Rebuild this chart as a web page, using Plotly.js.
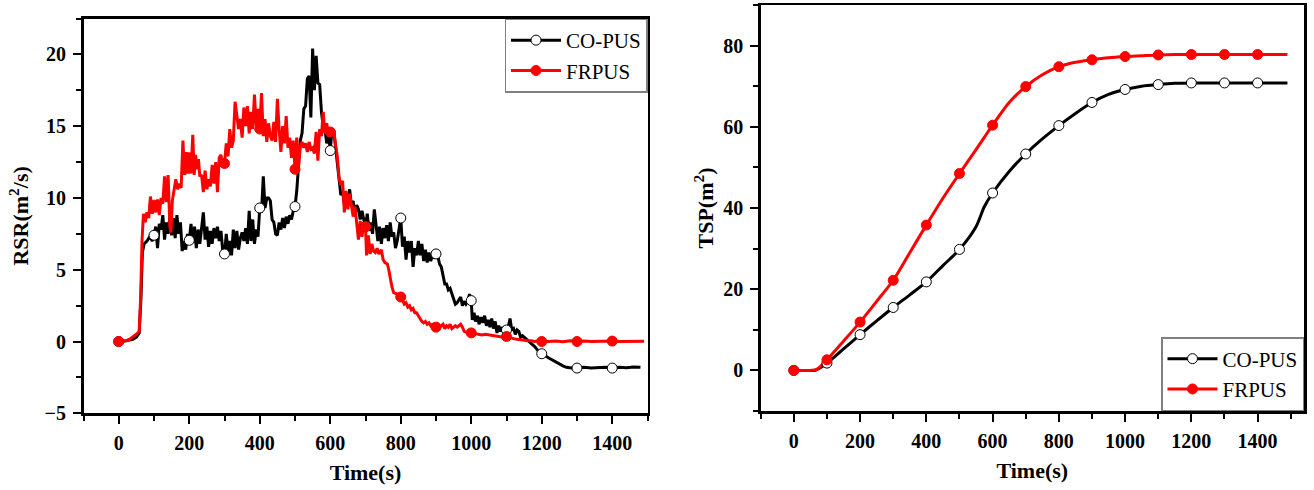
<!DOCTYPE html>
<html><head><meta charset="utf-8">
<script src="https://cdn.plot.ly/plotly-3.0.1.min.js"></script>
<style>html,body{margin:0;padding:0;background:#fff}</style>
</head><body>
<div id="chart" style="width:1314px;height:490px"></div>
<script>
const seriesNames = ['CO-PUS', 'FRPUS'];
const seriesColors = ['#000000', '#ff0000'];

// Rate of smoke release, CO-PUS
const rsrTimeCO = [0,10,20,30,40,50,58,63,67,72,80,88,95,100,105,110,115,120,125,130,135,140,145,150,155,160,165,170,175,180,185,190,195,200,205,210,215,220,225,230,235,240,245,250,255,260,265,270,275,280,285,290,295,300,305,310,315,320,325,330,335,340,345,350,355,360,365,370,375,380,385,390,395,400,405,410,415,420,425,430,435,440,445,450,455,460,465,470,475,480,485,490,495,500,505,510,515,520,525,530,535,540,545,550,555,560,565,570,575,580,585,590,595,600,605,610,615,620,625,630,635,640,645,650,655,660,665,670,675,680,685,690,695,700,705,710,715,720,725,730,735,740,745,750,755,760,765,770,775,780,785,790,795,800,805,810,815,820,825,830,835,840,845,850,855,860,865,870,875,880,885,890,895,900,905,910,915,920,925,930,935,940,945,950,955,960,965,970,975,980,985,990,995,1000,1003,1008,1012,1018,1022,1028,1033,1038,1043,1048,1053,1058,1063,1068,1073,1078,1083,1088,1093,1100,1105,1110,1115,1120,1125,1130,1135,1140,1145,1150,1160,1170,1180,1190,1200,1210,1220,1230,1240,1253,1260,1270,1280,1290,1300,1320,1340,1360,1380,1400,1420,1440,1460,1480,1490];
const rsrCO = [0,0,0.05,0.1,0.15,0.3,0.6,3,6.2,6.8,7.0,7.3,7.0,7.4,8.0,6.5,8.2,7.8,8.8,7.1,8.3,7.5,8.7,7.4,8.6,7.2,8.8,7.5,8.3,6.3,7.0,6.4,7.5,7.05,8.2,6.9,8.0,6.5,7.8,6.8,7.9,9.0,7.1,8.0,6.6,7.7,6.8,7.9,7.2,8.0,7.0,7.7,6.3,6.1,7.5,6.2,7.0,6.0,7.8,6.5,7.7,6.4,7.2,7.6,7.0,7.9,6.8,9.1,7.0,8.5,6.8,7.8,7.3,9.3,9.0,11.5,9.3,10.0,10.0,9.8,8.5,8.3,7.5,7.4,8.3,7.8,8.6,7.9,8.7,8.2,8.8,8.5,9.1,9.4,10.5,12.0,14.0,14.5,16.2,16.4,18.3,18.5,15.6,20.4,17.5,19.9,18.0,17.9,16.0,15.0,14.8,13.8,14.5,13.3,14.8,14.7,13.6,12.2,11.5,10.2,10.4,9.6,10.2,9.8,10.6,9.5,9.8,8.8,9.5,9.2,8.5,9.1,8.5,8.0,8.9,7.7,8.3,7.5,9.2,8.0,7.0,8.0,6.8,7.9,7.2,8.1,7.0,8.3,7.3,7.6,6.5,7.0,8.0,8.6,6.6,7.3,5.7,7.0,6.2,7.0,5.2,6.5,6.0,7.0,6.0,6.8,5.6,6.4,5.5,6.2,5.6,6.0,5.8,6.1,6.0,5.4,5.2,4.6,4.0,4.0,3.6,3.7,3.3,3.0,2.6,2.7,2.9,3.1,2.5,2.8,2.6,2.8,3.3,2.85,1.5,2.0,1.4,1.8,1.2,1.7,1.3,1.8,1.1,1.5,1.0,1.6,0.9,1.4,0.6,1.1,0.7,1.0,0.6,0.8,1.0,1.6,0.8,0.9,0.5,0.8,0.7,0.3,0.4,0.3,0.1,-0.1,-0.35,-0.65,-0.85,-1.0,-1.15,-1.3,-1.45,-1.6,-1.7,-1.8,-1.85,-1.87,-1.85,-1.8,-1.85,-1.82,-1.8,-1.85,-1.8,-1.82,-1.78,-1.8];

// Rate of smoke release, FRPUS
const rsrTimeFR = [0,10,20,30,40,50,58,62,66,70,75,80,85,90,95,100,105,110,115,120,125,130,135,140,145,148,152,157,162,167,172,177,182,187,192,196,200,205,210,214,218,222,226,230,235,240,245,250,255,260,265,270,275,280,285,290,295,300,305,310,315,320,325,330,335,340,345,350,355,360,365,370,375,380,385,390,395,400,405,410,415,420,425,430,435,440,445,450,455,460,465,470,475,480,485,490,495,500,505,510,515,520,525,530,535,540,545,550,555,560,565,570,575,580,585,590,595,600,605,610,615,620,625,630,635,640,645,650,655,660,665,670,675,680,685,690,695,700,703,708,713,718,723,728,733,738,745,750,755,762,766,770,775,780,790,800,805,810,815,820,825,830,835,840,845,850,855,860,865,870,875,880,885,890,895,900,905,910,915,920,925,930,935,940,945,950,955,960,965,970,975,980,990,1000,1010,1020,1030,1040,1050,1060,1070,1080,1090,1100,1110,1120,1130,1140,1150,1160,1170,1180,1190,1200,1220,1240,1260,1280,1300,1320,1340,1360,1380,1400,1420,1440,1460,1490];
const rsrFR = [0,0,0.05,0.15,0.3,0.5,0.7,3,7,8.9,8.3,9.0,8.6,10.1,8.9,9.5,9.0,9.9,8.8,10.0,9.6,11.5,9.7,11.6,8.0,7.6,9.8,10.7,11.3,10.6,11.0,10.7,14.0,11.6,13.2,11.7,12.8,11.7,14.4,11.6,13.0,12.0,12.7,11.5,11.6,10.4,11.9,10.6,11.3,10.8,12.3,11.0,12.5,10.4,12.8,13.0,12.2,12.4,13.8,12.9,14.8,13.5,14.0,16.7,15.8,14.8,15.5,14.2,16.3,15.0,16.4,14.5,16.0,14.8,17.2,15.0,16.2,14.8,17.3,14.3,15.5,13.9,15.2,14.3,14.0,15.3,13.9,16.9,14.8,13.2,15.0,13.8,15.7,13.5,14.2,12.8,14.0,12.0,14.2,12.2,13.6,13.9,13.5,13.8,13.2,13.9,13.4,13.5,13.1,14.6,12.6,14.8,14.3,16.0,14.5,15.2,14.3,14.6,14.4,14.7,13.7,12.9,11.4,10.9,11.2,9.0,10.5,9.2,10.3,9.5,8.7,9.4,8.3,7.1,8.4,7.3,8.3,8.0,6.0,7.4,6.1,6.8,6.3,6.2,6.5,6.1,6.4,5.7,5.5,5.4,5.0,4.4,3.8,3.4,3.3,3.1,2.9,2.6,2.7,2.4,2.5,2.2,2.3,2.0,2.0,1.8,1.6,1.4,1.3,1.4,1.2,1.3,1.1,1.2,1.2,1.0,1.2,1.0,1.1,1.2,0.9,1.1,1.0,1.2,0.9,1.0,1.1,1.0,1.1,1.2,1.0,0.7,0.6,0.6,0.55,0.5,0.45,0.5,0.45,0.4,0.4,0.35,0.3,0.35,0.25,0.2,0.15,0.1,0.1,0.05,0.05,0.0,0.05,0.0,0.0,0.03,-0.02,0.05,0.0,0.03,0.0,0.02,0.0,0.03,0.0,0.02,0.0,0.02,0.0];

// Total smoke production
const tspTime = [0,25,50,65,75,100,150,200,250,300,350,400,450,500,550,575,600,650,700,750,800,850,900,950,1000,1050,1100,1150,1200,1300,1400,1490];
const tspCO = [0,0,0,0.05,0.4,1.8,5.3,8.8,12.2,15.5,18.6,21.8,25.8,29.8,35.4,40.3,43.7,49.0,53.3,57.0,60.3,63.3,66.0,68.0,69.2,70.0,70.4,70.7,70.8,70.8,70.8,70.8];
const tspFR = [0,0,0,0.1,0.6,2.6,7.2,11.9,17.0,22.2,29.0,35.8,42.4,48.5,54.4,57.4,60.4,66.0,69.9,72.8,74.8,75.9,76.5,77.0,77.3,77.5,77.7,77.8,77.8,77.8,77.8,77.8];

const xTickValues = [0,200,400,600,800,1000,1200,1400];

const FONT = 'Liberation Serif, Times New Roman, serif';

function every100(t, v) {
  const xs = [], ys = [];
  t.forEach((ti, i) => { if (ti % 100 === 0 && ti <= 1400) { xs.push(ti); ys.push(v[i]); } });
  return {x: xs, y: ys};
}

const markerStyles = [
  {symbol: 'circle', size: 10, color: '#ffffff', line: {color: '#000000', width: 1}},
  {symbol: 'circle', size: 10, color: '#ff0000', line: {color: '#ff0000', width: 1}}
];

function panelTraces(times, values, xa, ya, legendId, shape) {
  const tr = [];
  values.forEach((v, k) => {
    tr.push({x: times[k], y: v, xaxis: xa, yaxis: ya, type: 'scatter', mode: 'lines',
      line: {color: seriesColors[k], width: 3, shape: shape, smoothing: 0.8}, showlegend: false, hoverinfo: 'skip'});
  });
  values.forEach((v, k) => {
    const m = every100(times[k], v);
    tr.push({x: m.x, y: m.y, xaxis: xa, yaxis: ya, type: 'scatter', mode: 'markers',
      marker: markerStyles[k], showlegend: false, hoverinfo: 'skip'});
  });
  values.forEach((v, k) => {
    tr.push({x: [null], y: [null], xaxis: xa, yaxis: ya, type: 'scatter', mode: 'lines+markers',
      name: seriesNames[k], legend: legendId, line: {color: seriesColors[k], width: 3}, marker: markerStyles[k]});
  });
  return tr;
}

const data = [].concat(
  panelTraces([rsrTimeCO, rsrTimeFR], [rsrCO, rsrFR], 'x', 'y', 'legend', 'linear'),
  panelTraces([tspTime, tspTime], [tspCO, tspFR], 'x2', 'y2', 'legend2', 'spline')
);

const tickFont = {family: FONT, size: 20, weight: 'bold', color: '#000'};
const titleFont = {family: FONT, size: 22, weight: 'bold', color: '#000'};

function xAxis(domain, range, anchor) {
  return {domain: domain, range: range, anchor: anchor, showline: true, linecolor: '#000', linewidth: 2.5,
    mirror: true, ticks: 'outside', ticklen: 8, tickwidth: 2, tickcolor: '#000',
    tickmode: 'array', tickvals: xTickValues, ticktext: xTickValues.map(String),
    minor: {tick0: 0, dtick: 100, ticks: 'outside', ticklen: 5, tickwidth: 2, tickcolor: '#000', showgrid: false},
    showgrid: false, zeroline: false, tickfont: tickFont, ticklabelstandoff: 2,
    title: {text: 'Time(s)', font: titleFont, standoff: 12}, fixedrange: true};
}
function yAxis(domain, range, anchor, dtick, title, standoff) {
  return {domain: domain, range: range, anchor: anchor, showline: true, linecolor: '#000', linewidth: 2.5,
    mirror: true, ticks: 'outside', ticklen: 8, tickwidth: 2, tickcolor: '#000',
    tick0: 0, dtick: dtick,
    minor: {tick0: 0, dtick: dtick / 2, ticks: 'outside', ticklen: 5, tickwidth: 2, tickcolor: '#000', showgrid: false},
    showgrid: false, zeroline: false, tickfont: tickFont, ticklabelstandoff: 3,
    title: {text: title, font: titleFont, standoff: standoff}, fixedrange: true};
}

const legendBase = {bgcolor: '#ffffff', bordercolor: '#808080', borderwidth: 1.5,
  font: {family: FONT, size: 21, color: '#000'}, tracegroupgap: 0, itemwidth: 50};

const layout = {
  width: 1314, height: 490,
  margin: {l: 0, r: 0, t: 0, b: 0},
  paper_bgcolor: '#ffffff', plot_bgcolor: '#ffffff',
  xaxis: xAxis([83.5 / 1314, 647.5 / 1314], [-100, 1500], 'y'),
  yaxis: yAxis([(490 - 413.3) / 490, (490 - 18.5) / 490], [-5, 22.5], 'x', 5, 'RSR(m<sup>2</sup>/s)', 10),
  xaxis2: xAxis([760.7 / 1314, 1304 / 1314], [-100, 1540], 'y2'),
  yaxis2: yAxis([(490 - 411) / 490, (490 - 5) / 490], [-10, 90], 'x2', 20, 'TSP(m<sup>2</sup>)', 4),
  legend: Object.assign({}, legendBase, {x: 647.5 / 1314, xanchor: 'right', y: (490 - 18.5) / 490, yanchor: 'top'}),
  legend2: Object.assign({}, legendBase, {x: 1304 / 1314, xanchor: 'right', y: (490 - 411) / 490, yanchor: 'bottom'}),
  showlegend: true
};

Plotly.newPlot('chart', data, layout, {displayModeBar: false, staticPlot: true});
</script>
</body></html>
